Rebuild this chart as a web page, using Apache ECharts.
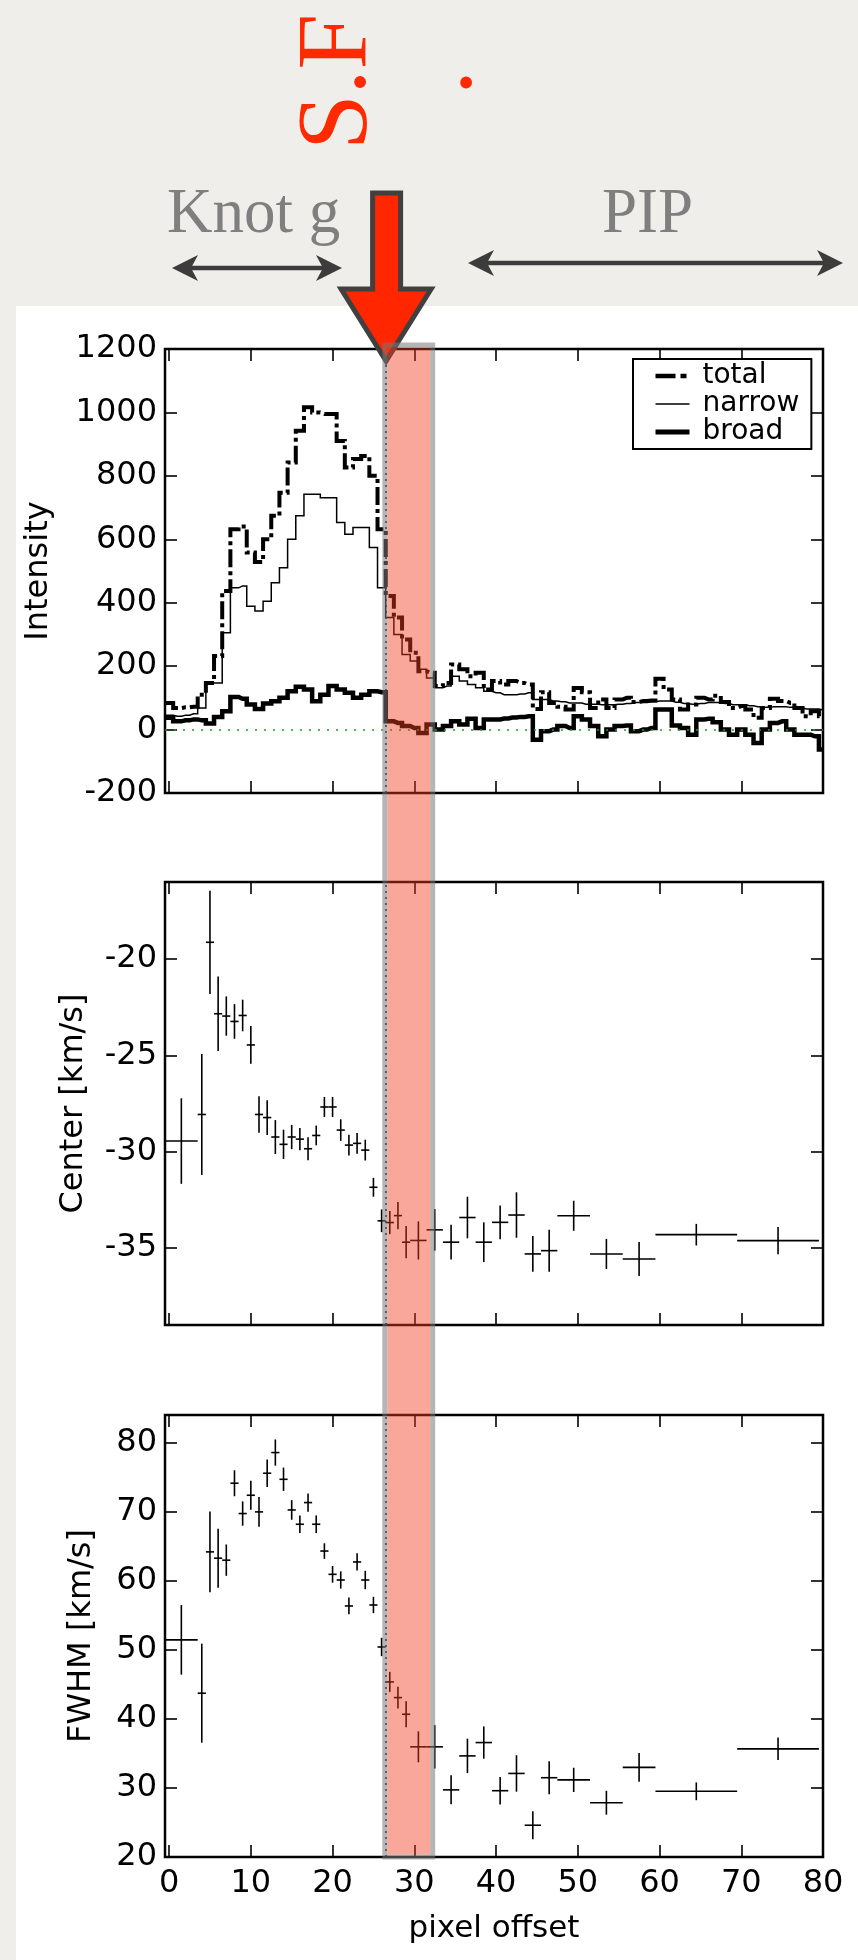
<!DOCTYPE html>
<html>
<head>
<meta charset="utf-8">
<script src="https://cdn.jsdelivr.net/npm/echarts@6/dist/echarts.min.js"></script>
<style>
  html, body { margin: 0; padding: 0; background: #efeeeb; }
  #chart { width: 858px; height: 1960px; }
</style>
</head>
<body>
<div id="chart"></div>
<script>
// ---------------- DATA ----------------
const intensityX = [0,1,2,3,4,5,6,7,8,9,10,11,12,13,14,15,16,17,18,19,20,21,22,23,24,25,26,27,28,29,30,31,32,33,34,35,36,37,38,39,40,41,42,43,44,45,46,47,48,49,50,51,52,53,54,55,56,57,58,59,60,61,62,63,64,65,66,67,68,69,70,71,72,73,74,75,76,77,78,79,80];
const totalI = [84,68,70,72,110,147,232,437,632,640,558,528,600,674,747,842,942,1016,1000,995,995,910,826,853,863,800,632,421,353,284,242,184,179,137,147,205,190,168,179,126,153,142,153,147,142,65,118,84,72,63,131,118,68,95,68,95,100,87,90,92,160,126,95,63,79,100,95,107,87,68,74,63,37,68,97,90,84,68,42,58,42];
const narrowI = [45,42,45,50,68,147,147,305,447,453,389,374,405,463,510,600,674,742,742,731,731,653,616,637,637,574,447,353,300,237,216,190,163,132,137,168,153,142,132,121,116,110,110,112,116,95,95,90,88,84,84,80,80,78,78,80,82,85,85,88,90,90,86,82,80,82,85,85,82,78,78,75,72,70,72,72,70,68,65,65,62];
const broadI = [37,26,29,32,29,19,40,58,103,97,79,65,82,89,100,121,135,126,89,110,137,126,116,100,110,121,118,26,21,11,5,-11,16,0,11,26,16,34,5,32,32,35,38,40,42,-32,-5,0,11,5,42,32,11,-21,0,11,13,-5,0,5,63,63,13,5,-16,32,34,23,0,-16,0,-16,-42,0,21,26,0,-16,-16,-21,-63];

const binX    = [1.5,4,5,6,7,8,9,10,11,12,13,14,15,16,17,18,19,20,21,22,23,24,25,26,27,28,29,30.5,32.5,34.5,36.5,38.5,40.5,42.5,44.5,46.5,49.5,53.5,57.5,64.5,74.5];
const binHalf = [2,0.5,0.5,0.5,0.5,0.5,0.5,0.5,0.5,0.5,0.5,0.5,0.5,0.5,0.5,0.5,0.5,0.5,0.5,0.5,0.5,0.5,0.5,0.5,0.5,0.5,0.5,1,1,1,1,1,1,1,1,1,2,2,2,5,5];
const centerV = [-29.45,-28.07,-19.13,-22.84,-22.96,-23.24,-22.93,-24.46,-28.07,-28.23,-29.24,-29.62,-29.24,-29.35,-29.85,-29.16,-27.68,-27.68,-28.88,-29.66,-29.57,-29.92,-31.85,-33.59,-33.68,-33.32,-34.70,-34.61,-34.06,-34.70,-33.42,-34.70,-33.67,-33.29,-35.31,-35.14,-33.33,-35.31,-35.57,-34.31,-34.62];
const centerE = [2.22,3.14,2.68,1.94,1.02,0.9,0.82,0.98,0.95,0.9,0.88,0.76,0.63,0.58,0.6,0.51,0.52,0.52,0.56,0.54,0.54,0.54,0.49,0.59,0.6,0.71,0.84,0.99,1.08,0.9,1.08,1.03,0.88,1.18,0.93,1.09,0.78,0.78,0.88,0.56,0.71];
const fwhmV = [51.44,43.72,64.18,63.27,62.98,74.12,69.73,72.38,69.97,75.57,78.56,74.69,70.25,68.18,71.32,68.18,64.3,60.93,60.11,56.35,62.72,60.11,56.49,50.41,45.35,43.08,40.67,35.95,35.95,29.72,34.64,36.57,29.6,32.1,24.6,31.48,31.17,27.86,32.98,29.51,35.66];
const fwhmE = [5.04,7.17,5.86,4.27,2.27,1.88,1.76,2.1,2.15,2.0,1.9,1.69,1.42,1.28,1.33,1.28,1.13,1.21,1.25,1.21,1.25,1.33,1.18,1.33,1.45,1.57,1.88,2.24,3.14,2.1,2.49,2.34,2.0,2.64,2.02,2.4,1.76,1.73,2.07,1.29,1.63];

const xRange = [-0.5, 80];
const xTicks = [0,10,20,30,40,50,60,70,80];
const intensityTicks = [-200,0,200,400,600,800,1000,1200];
const centerTicks = [-35,-30,-25,-20];
const fwhmTicks = [20,30,40,50,60,70,80];
const shockBand = [26.4, 32.25];
const shockLine = 26.55;
const seriesNames = ['total','narrow','broad'];
const axisNames = { intensity:'Intensity', center:'Center [km/s]', fwhm:'FWHM [km/s]', x:'pixel offset' };
const labels = { knot:'Knot g', pip:'PIP', sf:'S.F', dot:'.' };

// ---------------- CHART ----------------
const FONT = 'DejaVu Sans';
const chart = echarts.init(document.getElementById('chart'), null, {renderer:'canvas'});

const lineStyles = [
  {color:'#000', width:4, type:[18,4,4,4], join:'miter', cap:'butt'},
  {color:'#000', width:1.5, join:'miter'},
  {color:'#000', width:4.5, join:'miter'}
];

function stepData(xs, vs) {
  const d = xs.map((x, i) => [x, vs[i]]);
  d.unshift([xRange[0], vs[0]]);
  return d;
}
function errData(vs, es) {
  return binX.map((x, i) => [x, vs[i], binHalf[i], es[i]]);
}
function errRender(params, api) {
  const x = api.value(0), y = api.value(1), dx = api.value(2), dy = api.value(3);
  const l = api.coord([x - dx, y]), r = api.coord([x + dx, y]);
  const t = api.coord([x, y + dy]), b = api.coord([x, y - dy]);
  const st = {stroke:'#000', lineWidth:1.6};
  return {type:'group', children:[
    {type:'line', shape:{x1:l[0], y1:l[1], x2:r[0], y2:r[1]}, style:st},
    {type:'line', shape:{x1:t[0], y1:t[1], x2:b[0], y2:b[1]}, style:st}
  ]};
}
const tickStyle = {show:true, inside:true, length:12, lineStyle:{color:'#000', width:1.6}};
const plainNum = v => String(v);
function xAx(grid, pos, showLabel, name) {
  const a = {type:'value', gridIndex:grid, position:pos, min:xRange[0], max:xRange[1],
    axisLine:{show:false, onZero:false}, splitLine:{show:false},
    axisTick:Object.assign({customValues:xTicks}, tickStyle),
    axisLabel:{show:showLabel, customValues:xTicks, formatter:plainNum, color:'#000', fontFamily:FONT, fontSize:32, margin:11}};
  if (name) { a.name = name; a.nameLocation='middle'; a.nameGap=56; a.nameTextStyle={color:'#000', fontFamily:FONT, fontSize:31}; }
  return a;
}
function yAx(grid, pos, min, max, ticks, showLabel, name, gap) {
  const a = {type:'value', gridIndex:grid, position:pos, min:min, max:max,
    axisLine:{show:false, onZero:false}, splitLine:{show:false},
    axisTick:Object.assign({customValues:ticks}, tickStyle),
    axisLabel:{show:showLabel, customValues:ticks, formatter:plainNum, color:'#000', fontFamily:FONT, fontSize:32, margin:8}};
  if (name) { a.name = name; a.nameLocation='middle'; a.nameGap=gap; a.nameTextStyle={color:'#000', fontFamily:FONT, fontSize:32}; }
  return a;
}
const gridBase = {show:true, left:165, right:35, borderColor:'#000', borderWidth:2.5, backgroundColor:'transparent'};
const vline = {silent:true, symbol:['none','none'], label:{show:false},
  lineStyle:{color:'#000', type:[2,4], width:1.5}, data:[{xAxis:shockLine}]};

const option = {
  animation:false,
  backgroundColor:'transparent',
  grid:[
    Object.assign({top:349, height:444}, gridBase),
    Object.assign({top:882, height:443}, gridBase),
    Object.assign({top:1415, height:442}, gridBase)
  ],
  xAxis:[xAx(0,'bottom',false), xAx(0,'top',false), xAx(1,'bottom',false), xAx(1,'top',false), xAx(2,'bottom',true,axisNames.x), xAx(2,'top',false)],
  yAxis:[
    yAx(0,'left',-200,1200,intensityTicks,true,axisNames.intensity,110), yAx(0,'right',-200,1200,intensityTicks,false),
    yAx(1,'left',-39,-16,centerTicks,true,axisNames.center,75), yAx(1,'right',-39,-16,centerTicks,false),
    yAx(2,'left',20,84,fwhmTicks,true,axisNames.fwhm,67), yAx(2,'right',20,84,fwhmTicks,false)
  ],
  legend:{orient:'vertical', left:633, top:359,
    data:[
      {name:seriesNames[0], lineStyle:{width:4.5, type:[20,5,6,5], color:'#000'}},
      {name:seriesNames[1], lineStyle:{width:1.5, color:'#000'}},
      {name:seriesNames[2], lineStyle:{width:5, color:'#000'}}
    ],
    borderColor:'#000', borderWidth:2, padding:[3,12,3,20], itemGap:0,
    itemWidth:34, itemHeight:12, backgroundColor:'#fff',
    itemStyle:{color:'rgba(0,0,0,0)', borderColor:'rgba(0,0,0,0)', borderWidth:0, opacity:0},
    textStyle:{color:'#000', fontFamily:FONT, fontSize:28, lineHeight:26, padding:[0,0,0,8]}},
  series:[
    {name:seriesNames[0], type:'line', xAxisIndex:0, yAxisIndex:0, step:'middle', showSymbol:false, symbol:'none', color:'#000',
     data:stepData(intensityX,totalI), lineStyle:lineStyles[0], z:3},
    {name:seriesNames[1], type:'line', xAxisIndex:0, yAxisIndex:0, step:'middle', showSymbol:false, symbol:'none', color:'#000',
     data:stepData(intensityX,narrowI), lineStyle:lineStyles[1], z:3,
     markLine:vline},
    {name:seriesNames[2], type:'line', xAxisIndex:0, yAxisIndex:0, step:'middle', showSymbol:false, symbol:'none', color:'#000',
     data:stepData(intensityX,broadI), lineStyle:lineStyles[2], z:3,
     markLine:{silent:true, symbol:['none','none'], label:{show:false},
       lineStyle:{color:'#11aa11', type:[2,7], width:1.6}, data:[{yAxis:0}]}},
    {type:'custom', xAxisIndex:2, yAxisIndex:2, renderItem:errRender, data:errData(centerV,centerE), clip:true, markLine:vline},
    {type:'custom', xAxisIndex:4, yAxisIndex:4, renderItem:errRender, data:errData(fwhmV,fwhmE), clip:true, markLine:vline}
  ]
};
chart.setOption(option);

// ---------------- DECORATION ----------------
const bx0 = chart.convertToPixel({xAxisIndex:0}, shockBand[0]);
const bx1 = chart.convertToPixel({xAxisIndex:0}, shockBand[1]);
const by0 = chart.convertToPixel({yAxisIndex:0}, 1200) - 4;
const by1 = chart.convertToPixel({yAxisIndex:4}, 20);
const tipX = chart.convertToPixel({xAxisIndex:0}, shockLine);
const arrowGray = '#3c3c3c';
function dblArrow(x1, x2, y) {
  const h = 26, w = 13, n = 7;
  return [
    {type:'line', shape:{x1:x1+n, y1:y, x2:x2-n, y2:y}, style:{stroke:arrowGray, lineWidth:4.5}, z:5},
    {type:'polygon', shape:{points:[[x1,y],[x1+h,y-w],[x1+h-n,y],[x1+h,y+w]]}, style:{fill:arrowGray}, z:5},
    {type:'polygon', shape:{points:[[x2,y],[x2-h,y-w],[x2-h+n,y],[x2-h,y+w]]}, style:{fill:arrowGray}, z:5}
  ];
}
chart.setOption({graphic:[
  {type:'rect', shape:{x:16, y:306, width:842, height:1654}, style:{fill:'#ffffff'}, z:-10, silent:true},
  {type:'text', x:339, y:150, rotation:Math.PI/2, style:{text:labels.sf, font:'100px "Liberation Serif"', fill:'#ff2a00', align:'left', verticalAlign:'middle'}, z:5},
  {type:'text', x:445, y:95, rotation:Math.PI/2, style:{text:labels.dot, font:'100px "Liberation Serif"', fill:'#ff2a00', align:'left', verticalAlign:'middle'}, z:5},
  {type:'text', x:167, y:184, style:{text:labels.knot, font:'63px "Liberation Serif"', fill:'#7f7f7f', align:'left', verticalAlign:'top'}, z:5},
  {type:'text', x:602, y:184, style:{text:labels.pip, font:'63px "Liberation Serif"', fill:'#7f7f7f', align:'left', verticalAlign:'top'}, z:5},
  ...dblArrow(172, 342, 268),
  ...dblArrow(468, 843, 263),
  {type:'polygon', shape:{points:[[tipX-13.5,193],[tipX+14.5,193],[tipX+14.5,289],[tipX+45,289],[tipX,361],[tipX-45,289],[tipX-13.5,289]]},
   style:{fill:'#ff2600', stroke:'#404040', lineWidth:5, lineJoin:'miter'}, z:6},
  {type:'rect', shape:{x:bx0+2.5, y:by0+2.5, width:bx1-bx0-5, height:by1-by0-5}, style:{fill:'rgba(240,60,30,0.45)'}, z:50, silent:true},
  {type:'rect', shape:{x:bx0, y:by0, width:bx1-bx0, height:by1-by0}, style:{fill:null, stroke:'rgba(120,120,120,0.55)', lineWidth:5}, z:51, silent:true}
]});
</script>
</body>
</html>
